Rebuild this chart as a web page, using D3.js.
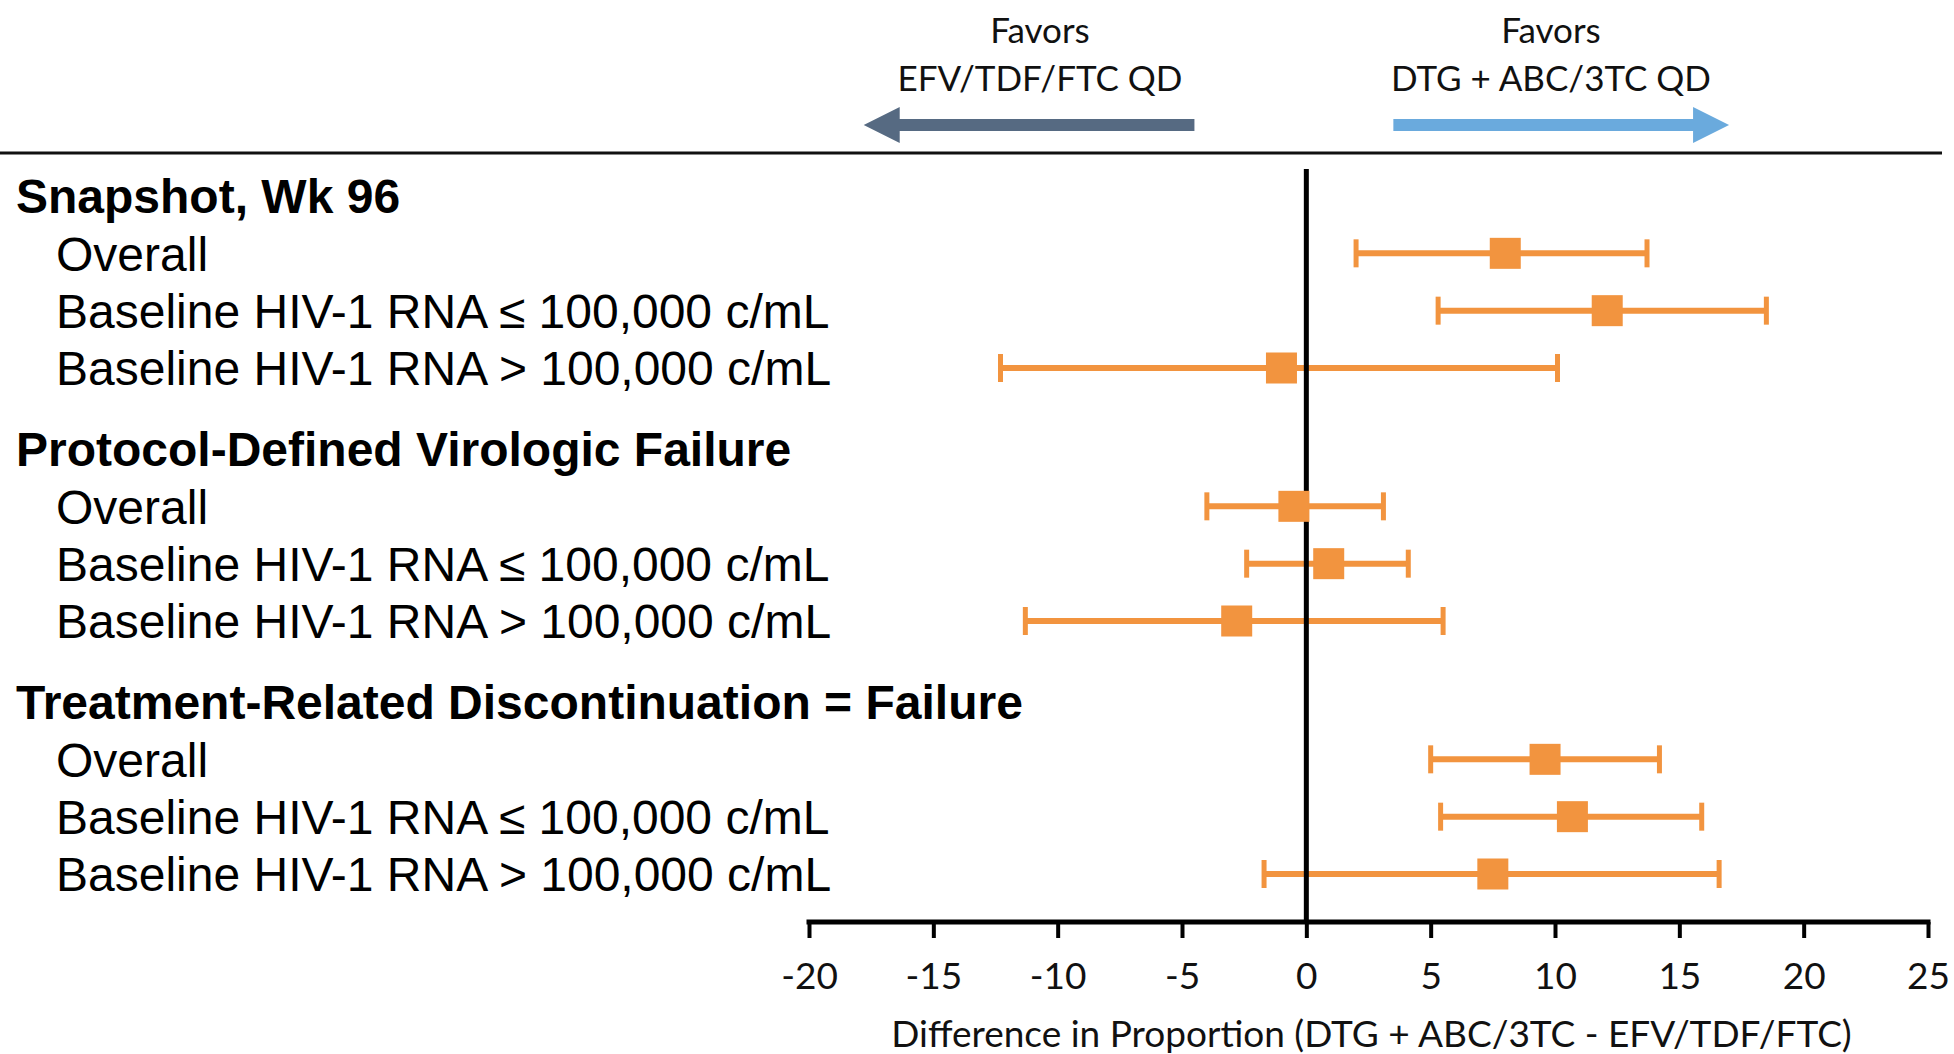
<!DOCTYPE html>
<html>
<head>
<meta charset="utf-8">
<script src="https://cdn.jsdelivr.net/npm/d3@7"></script>
<style>
  html, body { margin: 0; padding: 0; background: #fff; }
  svg { display: block; }
</style>
</head>
<body>
<script>
// ---- data ----
const groups = ["Snapshot, Wk 96", "Protocol-Defined Virologic Failure", "Treatment-Related Discontinuation = Failure"];
const subgroups = ["Overall", "Baseline HIV-1 RNA \u2264 100,000 c/mL", "Baseline HIV-1 RNA > 100,000 c/mL"];
const estimates = [8.0, 12.1, -1.0, -0.5, 0.9, -2.8, 9.6, 10.7, 7.5];
const lowerCI   = [2.0, 5.3, -12.3, -4.0, -2.4, -11.3, 5.0, 5.4, -1.7];
const upperCI   = [13.7, 18.5, 10.1, 3.1, 4.1, 5.5, 14.2, 15.9, 16.6];
const xTicks = [-20, -15, -10, -5, 0, 5, 10, 15, 20, 25];
const favorLeft = ["Favors", "EFV/TDF/FTC QD"];
const favorRight = ["Favors", "DTG + ABC/3TC QD"];
const favorLeftRange = [-4.5, -17.8];
const favorRightRange = [3.5, 17.0];
const axisTitle = "Difference in Proportion (DTG + ABC/3TC - EFV/TDF/FTC)";

// ---- layout ----
const W = 1954, H = 1054;
const svg = d3.select("body").append("svg").attr("width", W).attr("height", H);

const x = d3.scaleLinear().domain([-20, 25]).range([809, 1928]);
const yGroup = d3.scaleLinear().domain([0, 2]).range([196, 702]);
const yItem = d3.scaleLinear().domain([0, 3]).range([0, 172]);
const rowY = (g, i) => yGroup(g) + yItem(i);

const orange = "#F2943F";
const labelFont = "'Liberation Sans', Arial, sans-serif";
const axisFont = "Lato, 'Open Sans', sans-serif";

// top separator
svg.append("line").attr("x1", 0).attr("x2", 1942).attr("y1", 153).attr("y2", 153)
  .attr("stroke", "#111").attr("stroke-width", 3);

// favor arrows
function arrow(x0, x1, color) {
  const y = 125, shaftH = 12, headH = 36, headL = 36;
  const dir = Math.sign(x1 - x0);
  const xb = x1 - dir * headL;
  const pts = [
    [x0, y - shaftH / 2], [xb, y - shaftH / 2], [xb, y - headH / 2], [x1, y],
    [xb, y + headH / 2], [xb, y + shaftH / 2], [x0, y + shaftH / 2]
  ];
  svg.append("path").attr("d", d3.line()(pts) + "Z").attr("fill", color);
}
arrow(x(favorLeftRange[0]), x(favorLeftRange[1]), "#566A82");
arrow(x(favorRightRange[0]), x(favorRightRange[1]), "#6AAADD");

function favorText(lines, cx) {
  const t = svg.append("text").attr("text-anchor", "middle")
    .attr("font-family", axisFont).attr("font-size", 35).attr("fill", "#111");
  lines.forEach((s, k) => {
    t.append("tspan").attr("x", cx).attr("y", 43 + k * 48).text(s);
  });
}
favorText(favorLeft, 1040);
favorText(favorRight, 1551);

// row labels
groups.forEach((g, gi) => {
  svg.append("text").attr("x", 16).attr("y", rowY(gi, 0)).attr("dy", "0.36em")
    .attr("font-family", labelFont).attr("font-weight", "bold").attr("font-size", 48)
    .attr("fill", "#000").text(g);
  subgroups.forEach((s, si) => {
    svg.append("text").attr("x", 56).attr("y", rowY(gi, si + 1)).attr("dy", "0.36em")
      .attr("font-family", labelFont).attr("font-size", 48)
      .attr("fill", "#000").text(s);
  });
});

// rows data
const rows = estimates.map((e, k) => ({
  est: e, lo: lowerCI[k], hi: upperCI[k],
  y: rowY(Math.floor(k / 3), (k % 3) + 1)
}));

// axis
const axisY = 922;
const axisG = svg.append("g").attr("transform", `translate(0,${axisY})`)
  .call(d3.axisBottom(x).tickValues(xTicks).tickSize(16).tickSizeOuter(0).tickFormat(d3.format("d")));
axisG.select(".domain").attr("stroke", "#000").attr("stroke-width", 5)
  .attr("d", `M${x(-20) - 2.5},0H${x(25) + 2.5}`);
axisG.selectAll(".tick line").attr("stroke", "#000").attr("stroke-width", 4);
axisG.selectAll(".tick text").attr("font-family", axisFont).attr("font-size", 37)
  .attr("fill", "#111").attr("y", 54).attr("dy", "0.36em")
  .text(d => d < 0 ? "-" + Math.abs(d) : d);

svg.append("text").attr("x", (x(-20) + x(25)) / 2 + 3).attr("y", 1034).attr("dy", "0.36em")
  .attr("text-anchor", "middle").attr("font-family", axisFont).attr("font-size", 37)
  .attr("fill", "#111").text(axisTitle);

// error bars
const bars = svg.append("g");
rows.forEach(r => {
  bars.append("line").attr("x1", x(r.lo)).attr("x2", x(r.hi)).attr("y1", r.y).attr("y2", r.y)
    .attr("stroke", orange).attr("stroke-width", 6);
  [r.lo, r.hi].forEach(v => {
    bars.append("line").attr("x1", x(v)).attr("x2", x(v)).attr("y1", r.y - 14).attr("y2", r.y + 14)
      .attr("stroke", orange).attr("stroke-width", 5);
  });
});

// zero line
svg.append("line").attr("x1", x(0)).attr("x2", x(0)).attr("y1", 169).attr("y2", axisY)
  .attr("stroke", "#000").attr("stroke-width", 5);

// squares
const sq = 31;
svg.append("g").selectAll("rect").data(rows).join("rect")
  .attr("x", d => x(d.est) - sq / 2).attr("y", d => d.y - sq / 2)
  .attr("width", sq).attr("height", sq).attr("fill", orange);
</script>
</body>
</html>
